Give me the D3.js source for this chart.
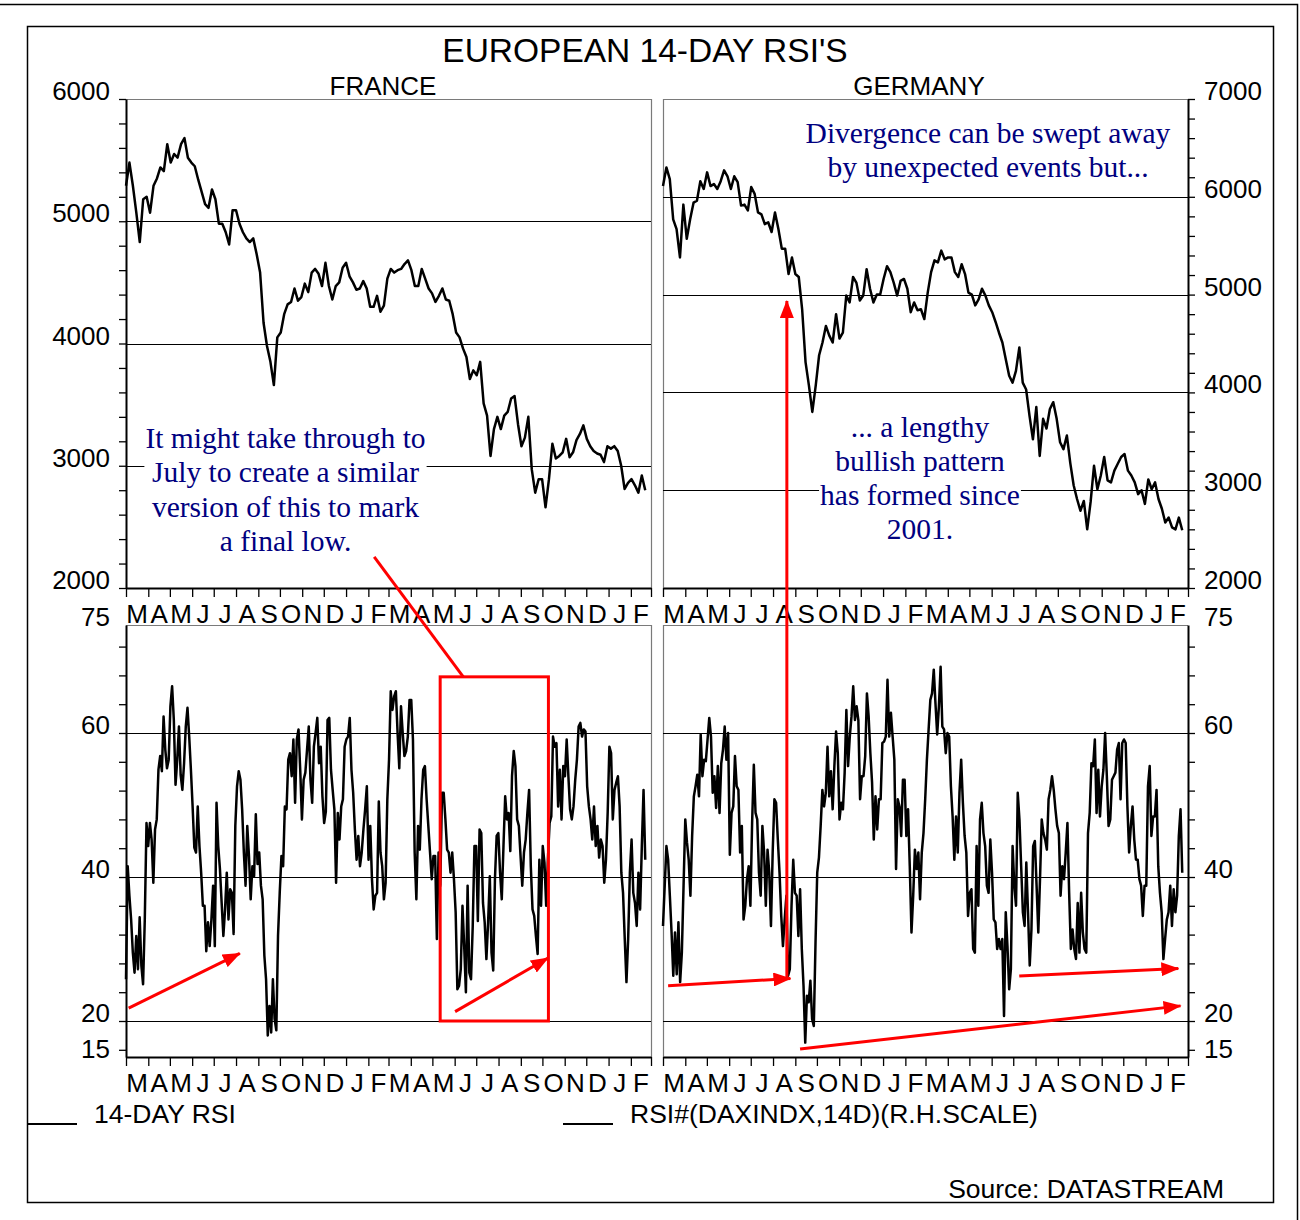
<!DOCTYPE html>
<meta charset="utf-8">
<style type="text/css">
    body { margin: 0; background: #fff; }
    svg text { font-family: "Liberation Sans", Arial, sans-serif; fill: #000; }
    .grid { stroke: #000; stroke-width: 1; }
    .frame { stroke: #7a7a7a; stroke-width: 1.2; fill: none; }
    .series { fill: none; stroke: #000; stroke-width: 2.5; stroke-linejoin: round; }
    .note text { font-family: "Liberation Serif", "Times New Roman", serif; fill: #000080; font-size: 29.5px; }
    .red { stroke: #ff0000; stroke-width: 3; fill: none; }
</style>
<body>
</body>
<script src="https://d3js.org/d3.v7.min.js"></script>
<script>

    // month letters for the 24 months Mar 2001 .. Feb 2003
    var monthLetters = ["M","A","M","J","J","A","S","O","N","D","J","F",
                        "M","A","M","J","J","A","S","O","N","D","J","F"];

    // CAC 40 (left scale)
    var franceClose = [
        5290, 5480, 5290, 5070, 4830, 5180, 5200, 5070, 5290, 5350,
        5440, 5410, 5630, 5480, 5550, 5520, 5630, 5680, 5520, 5480,
        5450, 5340, 5240, 5140, 5110, 5260, 5180, 4980, 4980, 4910,
        4810, 5090, 5090, 4980, 4910, 4860, 4830, 4860, 4730, 4580,
        4170, 3980, 3850, 3660, 4050, 4090, 4240, 4320, 4340, 4450,
        4350, 4380, 4490, 4420, 4580, 4610, 4570, 4470, 4660, 4470,
        4360, 4470, 4500, 4620, 4660, 4550, 4500, 4440, 4450, 4510,
        4450, 4300, 4300, 4390, 4260, 4310, 4530, 4610, 4580, 4600,
        4610, 4650, 4680, 4600, 4470, 4470, 4610, 4530, 4450, 4410,
        4340, 4390, 4450, 4360, 4350, 4240, 4090, 4050, 3960, 3890,
        3710, 3780, 3740, 3850, 3510, 3410, 3080, 3300, 3400, 3300,
        3410, 3440, 3550, 3570, 3340, 3160, 3230, 3400, 2970, 2780,
        2890, 2890, 2660, 2890, 3180, 3060, 3080, 3110, 3220, 3070,
        3110, 3210, 3260, 3330, 3220, 3160, 3120, 3100, 3090, 3030,
        3160, 3140, 3160, 3120, 3000, 2810, 2860, 2890, 2840, 2780,
        2920, 2800
    ];

    // DAX (right scale)
    var germanyClose = [
        6110, 6300, 6180, 5770, 5670, 5380, 5920, 5570, 5770, 5940,
        5960, 6160, 6080, 6250, 6110, 6130, 6080, 6160, 6270, 6210,
        6080, 6210, 6150, 5910, 5920, 5860, 6100, 6030, 5840, 5820,
        5720, 5740, 5640, 5840, 5670, 5470, 5470, 5210, 5380, 5210,
        5180, 4850, 4310, 4070, 3800, 4070, 4380, 4510, 4680, 4580,
        4510, 4800, 4550, 4610, 4990, 4920, 5180, 5120, 4940, 4990,
        5260, 5060, 4920, 5000, 5000, 5160, 5290, 5230, 5120, 4990,
        5140, 5160, 5060, 4820, 4920, 4840, 4850, 4750, 5020, 5230,
        5350, 5330, 5450, 5360, 5380, 5380, 5230, 5180, 5310, 5210,
        5020, 5000, 4890, 4950, 5060, 4990, 4890, 4820, 4720, 4610,
        4510, 4340, 4170, 4100, 4220, 4460, 4100, 4030, 3760, 3520,
        3850, 3350, 3730, 3630, 3830, 3900, 3730, 3490, 3420, 3560,
        3280, 3050, 2910, 2790, 2890, 2600, 2880, 3250, 3010, 3150,
        3340, 3100, 3080, 3200, 3270, 3340, 3370, 3200, 3150, 3080,
        2960, 3000, 2860, 3110, 3010, 3080, 2910, 2810, 2670, 2720,
        2620, 2600, 2720, 2590
    ];

    // 14-day RSI, France
    var franceRsi = [
        25.8, 41.5, 37.4, 34.1, 29.5, 26.7, 31.8, 27.2, 34.4, 27.7,
        25.1, 34.1, 47.5, 44.3, 47.5, 45.2, 39.2, 46.6, 48.0, 54.9,
        56.8, 54.7, 62.3, 57.7, 55.1, 56.3, 63.7, 66.5, 61.8, 52.8,
        56.3, 60.9, 54.2, 52.1, 55.8, 60.9, 63.5, 59.5, 54.9, 49.8,
        44.1, 43.4, 49.8, 44.3, 40.6, 36.0, 36.0, 29.7, 33.7, 30.4,
        34.1, 38.8, 30.4, 50.3, 44.3, 41.1, 36.4, 31.8, 35.5, 40.6,
        34.1, 38.3, 37.8, 32.1, 47.1, 52.6, 54.7, 53.5, 49.4, 43.4,
        38.8, 47.1, 42.9, 36.9, 41.5, 40.1, 48.7, 41.8, 43.4, 38.8,
        36.9, 29.1, 25.8, 18.0, 22.1, 18.4, 25.8, 20.3, 18.7, 31.8,
        37.8, 42.9, 41.5, 49.8, 49.4, 56.3, 57.2, 54.0, 59.1, 50.3,
        59.1, 60.5, 54.9, 48.0, 53.5, 54.5, 57.7, 60.9, 53.5, 50.3,
        58.1, 60.0, 62.1, 55.8, 58.1, 51.2, 47.5, 49.1, 61.8, 62.1,
        54.9, 52.1, 49.4, 39.2, 48.9, 45.2, 49.8, 50.8, 58.1, 59.1,
        59.5, 62.1, 54.9, 51.7, 46.6, 42.4, 45.7, 41.5, 43.4, 46.6,
        49.4, 52.6, 42.4, 47.1, 39.7, 35.5, 37.4, 37.8, 50.5, 43.4,
        41.5, 36.9, 39.2, 50.8, 56.3, 65.8, 63.2, 65.1, 65.8, 60.0,
        55.1, 63.7, 60.0, 56.8, 57.5, 59.5, 64.6, 64.6, 59.1, 43.4,
        36.9, 47.1, 43.8, 50.8, 54.9, 55.4, 50.8, 47.1, 43.4, 39.7,
        42.9, 42.9, 31.4, 43.4, 38.8, 51.7, 51.7, 48.0, 43.8, 43.4,
        40.6, 43.4, 39.7, 35.1, 24.4, 24.9, 27.2, 36.0, 30.4, 24.0,
        38.8, 26.7, 25.8, 33.2, 44.3, 44.3, 33.9, 46.6, 46.1, 36.4,
        33.7, 28.6, 33.7, 40.1, 29.5, 27.0, 39.7, 45.7, 46.1, 40.6,
        36.9, 44.3, 51.2, 48.0, 48.9, 43.6, 54.0, 57.5, 55.4, 48.0,
        47.1, 42.9, 38.8, 43.4, 45.2, 48.9, 52.1, 41.5, 35.5, 34.6,
        31.8, 29.3, 42.4, 36.0, 44.3, 42.0, 36.0, 42.4, 47.5, 48.4,
        59.5, 58.1, 58.6, 49.8, 54.9, 48.0, 55.4, 54.0, 59.1, 54.0,
        49.4, 48.0, 49.8, 53.5, 56.3, 60.9, 61.4, 59.5, 60.5, 60.2,
        52.6, 49.8, 48.0, 45.2, 49.8, 44.3, 47.1, 42.7, 45.2, 44.3,
        39.2, 42.4, 48.9, 58.1, 57.2, 48.0, 52.1, 53.1, 54.0, 49.8,
        40.6, 37.8, 31.4, 25.4, 31.4, 40.6, 45.2, 37.8, 36.4, 33.2,
        40.6, 35.5, 44.3, 52.1, 42.4
    ];

    // RSI#(DAXINDX,14D)
    var germanyRsi = [
        33.2, 38.8, 44.3, 42.4, 37.4, 32.3, 26.3, 32.3, 26.5, 33.7,
        25.4, 29.5, 38.8, 48.0, 44.8, 42.4, 37.4, 45.7, 51.2, 52.6,
        54.2, 51.2, 59.8, 54.0, 56.3, 56.1, 59.1, 62.1, 59.5, 51.7,
        54.0, 49.6, 55.4, 48.9, 55.8, 57.7, 60.9, 56.3, 60.0, 43.1,
        48.9, 49.8, 56.8, 52.6, 52.1, 43.4, 47.1, 34.1, 36.0, 39.7,
        41.5, 36.0, 47.5, 55.6, 48.9, 48.0, 40.6, 37.4, 47.1, 43.4,
        36.0, 43.8, 40.6, 33.2, 43.4, 50.8, 50.3, 45.2, 40.6, 34.6,
        30.4, 34.1, 37.4, 26.3, 27.2, 36.0, 42.4, 37.8, 37.4, 31.8,
        38.3, 30.0, 24.9, 17.0, 23.5, 22.6, 25.6, 20.3, 19.3, 30.9,
        40.6, 42.7, 47.1, 52.1, 49.8, 51.7, 58.1, 51.2, 54.7, 49.4,
        55.4, 60.2, 57.2, 48.0, 50.3, 49.4, 54.5, 63.2, 55.4, 59.5,
        62.3, 66.5, 61.8, 63.7, 61.8, 50.8, 54.0, 54.0, 56.8, 65.5,
        62.3, 57.2, 53.1, 45.2, 51.2, 46.6, 50.8, 50.8, 58.6, 58.8,
        59.5, 67.4, 59.5, 62.8, 59.5, 56.3, 41.1, 50.8, 49.8, 45.7,
        53.5, 53.5, 45.7, 49.4, 41.5, 32.3, 37.4, 43.8, 41.1, 43.4,
        36.9, 43.4, 46.1, 50.8, 56.3, 60.5, 64.6, 65.5, 68.8, 64.1,
        59.8, 63.7, 69.2, 60.9, 60.5, 57.2, 60.0, 59.5, 52.6, 48.4,
        42.4, 48.4, 43.4, 51.7, 56.3, 50.3, 45.7, 43.4, 34.6, 37.8,
        38.3, 30.0, 29.5, 44.3, 36.0, 48.0, 50.3, 46.1, 44.3, 38.8,
        37.8, 45.2, 40.6, 34.1, 33.7, 30.0, 31.4, 30.0, 31.4, 20.7,
        35.1, 30.4, 24.4, 27.2, 44.3, 38.8, 36.0, 51.7, 48.0, 41.5,
        35.1, 33.2, 42.0, 35.1, 27.7, 32.7, 44.3, 45.0, 38.8, 32.3,
        39.7, 48.0, 46.1, 45.2, 43.8, 50.8, 52.1, 54.0, 52.1, 49.4,
        47.1, 46.1, 37.4, 41.5, 39.7, 43.4, 47.5, 37.8, 30.0, 32.7,
        30.0, 28.6, 36.4, 29.5, 37.8, 32.3, 30.0, 29.5, 46.1, 48.9,
        55.8, 55.4, 59.1, 48.9, 54.9, 48.4, 52.6, 54.9, 60.0, 54.0,
        47.1, 48.0, 53.5, 54.0, 54.5, 57.7, 58.6, 50.8, 58.6, 59.1,
        58.6, 49.8, 43.4, 47.1, 49.8, 45.2, 42.4, 42.4, 39.7, 38.8,
        34.6, 38.8, 38.8, 52.6, 55.4, 45.7, 48.4, 48.4, 52.1, 41.5,
        37.8, 35.1, 28.6, 31.4, 34.1, 35.1, 38.8, 33.2, 38.3, 35.1,
        37.4, 45.7, 49.4, 40.6
    ];

    var axisStart = new Date(2001, 2, 1),
        axisEnd = new Date(2003, 2, 1),
        lastObs = new Date(2003, 1, 21);

    var svg = d3.select("body").append("svg")
        .attr("width", 1300)
        .attr("height", 1220);

    // page borders
    svg.append("path").attr("d", "M0,4.5H1297.5V1220").attr("fill", "none")
        .attr("stroke", "#000").attr("stroke-width", 1.5);
    svg.append("rect").attr("x", 27.5).attr("y", 26.5).attr("width", 1246).attr("height", 1176)
        .attr("fill", "none").attr("stroke", "#000").attr("stroke-width", 1.5);

    var xFr = d3.scaleTime().domain([axisStart, axisEnd]).range([126, 651]);
    var xDe = d3.scaleTime().domain([axisStart, axisEnd]).range([663, 1188]);
    var yFrPx = d3.scaleLinear().domain([2000, 6000]).range([588, 99]);
    var yDePx = d3.scaleLinear().domain([2000, 7000]).range([588, 99]);
    var yRsi = d3.scaleLinear().domain([15, 75]).range([1057, 625]);

    var panels = [
        {x: xFr, y: yFrPx, side: "left", grid: [3000, 4000, 5000], ticks: d3.range(2000, 6001, 200),
         labels: [2000, 3000, 4000, 5000, 6000], data: franceClose},
        {x: xDe, y: yDePx, side: "right", grid: [3000, 4000, 5000, 6000], ticks: d3.range(2000, 7001, 200),
         labels: [2000, 3000, 4000, 5000, 6000, 7000], data: germanyClose},
        {x: xFr, y: yRsi, side: "left", grid: [20, 40, 60], ticks: d3.range(16, 73, 4),
         labels: [15, 20, 40, 60, 75], data: franceRsi},
        {x: xDe, y: yRsi, side: "right", grid: [20, 40, 60], ticks: d3.range(16, 73, 4),
         labels: [15, 20, 40, 60, 75], data: germanyRsi}
    ];

    // spread observations evenly from the first to the last trading day shown
    function withDates(values) {
        var t = d3.scaleLinear().domain([0, values.length - 1]).range([+axisStart, +lastObs]);
        return values.map(function(v, i) { return {date: new Date(t(i)), value: v}; });
    }

    // month offset (fractional) -> date, for annotations
    function md(m) {
        var base = d3.timeMonth.offset(axisStart, Math.floor(m)),
            next = d3.timeMonth.offset(base, 1);
        return new Date(+base + (m - Math.floor(m)) * (next - base));
    }

    var gridLayer = svg.append("g"),
        noteLayer = svg.append("g"),
        lineLayer = svg.append("g"),
        axisLayer = svg.append("g"),
        redLayer = svg.append("g");

    var months = d3.timeMonth.range(axisStart, d3.timeDay.offset(axisEnd, 1));

    panels.forEach(function(p) {
        var x0 = p.x.range()[0], x1 = p.x.range()[1],
            yb = p.y.range()[0], yt = p.y.range()[1];

        // thin grey frame on the non-axis sides
        var fx = p.side === "left" ? x1 : x0;
        gridLayer.append("path").attr("class", "frame")
            .attr("d", "M" + x0 + "," + (yt + 0.5) + "H" + x1 + "M" + (fx + 0.5) + "," + yt + "V" + yb);

        gridLayer.selectAll(null)
            .data(p.grid)
            .enter().append("line")
            .attr("class", "grid")
            .attr("x1", x0).attr("x2", x1)
            .attr("y1", function(d) { return Math.round(p.y(d)) + 0.5; })
            .attr("y2", function(d) { return Math.round(p.y(d)) + 0.5; });

        var line = d3.line()
            .x(function(d) { return p.x(d.date); })
            .y(function(d) { return p.y(d.value); });

        lineLayer.append("path")
            .datum(withDates(p.data))
            .attr("class", "series")
            .attr("d", line);

        // value axis
        var ax = (p.side === "left" ? d3.axisLeft(p.y) : d3.axisRight(p.y))
            .tickValues(p.ticks).tickSize(7).tickSizeOuter(0).tickFormat("");
        var ga = axisLayer.append("g")
            .attr("transform", "translate(" + (p.side === "left" ? x0 : x1) + ",0)")
            .call(ax);
        ga.select(".domain").attr("stroke-width", 2);
        ga.selectAll(".tick line").attr("stroke-width", 1.3);

        axisLayer.selectAll(null)
            .data(p.labels)
            .enter().append("text")
            .attr("x", p.side === "left" ? x0 - 16 : x1 + 16)
            .attr("y", function(d) { return p.y(d) + 1; })
            .attr("text-anchor", p.side === "left" ? "end" : "start")
            .style("font-size", "26px")
            .text(function(d) { return d; });

        // month axis
        var gm = axisLayer.append("g")
            .attr("transform", "translate(0," + yb + ")")
            .call(d3.axisBottom(p.x).tickValues(months).tickSize(9).tickSizeOuter(0).tickFormat(""));
        gm.select(".domain").attr("stroke-width", 2);
        gm.selectAll(".tick line").attr("stroke-width", 1.3);

        axisLayer.selectAll(null)
            .data(months.slice(0, 24))
            .enter().append("text")
            .attr("x", function(d, i) { return (p.x(d) + p.x(months[i + 1])) / 2; })
            .attr("y", yb + 35)
            .attr("text-anchor", "middle")
            .style("font-size", "26px")
            .text(function(d, i) { return monthLetters[i]; });
    });

    // headings
    svg.append("text").attr("x", 645).attr("y", 62).attr("text-anchor", "middle")
        .style("font-size", "33.5px").text("EUROPEAN 14-DAY RSI'S");
    svg.append("text").attr("x", 383).attr("y", 95).attr("text-anchor", "middle")
        .style("font-size", "26px").text("FRANCE");
    svg.append("text").attr("x", 919).attr("y", 95).attr("text-anchor", "middle")
        .style("font-size", "26px").text("GERMANY");

    // legend and source
    var legend = [
        {x: 27, label: "14-DAY RSI"},
        {x: 563, label: "RSI#(DAXINDX,14D)(R.H.SCALE)"}
    ];
    legend.forEach(function(l) {
        svg.append("line").attr("x1", l.x).attr("x2", l.x + 50).attr("y1", 1124).attr("y2", 1124)
            .attr("stroke", "#000").attr("stroke-width", 2);
        svg.append("text").attr("x", l.x + 67).attr("y", 1123)
            .style("font-size", "26.5px").text(l.label);
    });
    svg.append("text").attr("x", 1224).attr("y", 1198).attr("text-anchor", "end")
        .style("font-size", "26.5px").text("Source: DATASTREAM");

    // text notes, on white so they knock out the grid lines
    var notes = [
        {x: 285.5, y: 448, padX: 1, lines: ["It might take through to", "July to create a similar",
                                            "version of this to mark", "a final low."]},
        {x: 988, y: 143, padX: 9, lines: ["Divergence can be swept away", "by unexpected events but..."]},
        {x: 920, y: 436.5, padX: 1, lines: ["... a lengthy", "bullish pattern", "has formed since", "2001."]}
    ];
    notes.forEach(function(n) {
        var g = noteLayer.append("g").attr("class", "note");
        var box = g.append("rect").attr("fill", "#fff");
        var t = g.append("text").attr("text-anchor", "middle");
        t.selectAll("tspan")
            .data(n.lines)
            .enter().append("tspan")
            .attr("x", n.x)
            .attr("y", function(d, i) { return n.y + i * 34.3; })
            .text(function(d) { return d; });
        var bb = t.node().getBBox();
        box.attr("x", bb.x - n.padX).attr("y", bb.y).attr("width", bb.width + 2 * n.padX).attr("height", bb.height);
    });

    // red markup
    svg.append("defs").append("marker")
        .attr("id", "head")
        .attr("viewBox", "0 0 18 14")
        .attr("markerUnits", "userSpaceOnUse")
        .attr("markerWidth", 18).attr("markerHeight", 14)
        .attr("refX", 17).attr("refY", 7)
        .attr("orient", "auto")
        .append("path").attr("d", "M0,0L18,7L0,14Z").attr("fill", "#ff0000");

    var arrows = [
        {x: xFr, y0: yRsi, y1: yRsi, from: [0.12, 21.8], to: [5.17, 29.4]},
        {x: xFr, y0: yRsi, y1: yRsi, from: [15.02, 21.3], to: [19.25, 28.75]},
        {x: xDe, y0: yRsi, y1: yRsi, from: [0.23, 24.9], to: [5.78, 25.9]},
        {x: xDe, y0: yRsi, y1: yRsi, from: [16.27, 26.25], to: [23.52, 27.3]},
        {x: xDe, y0: yRsi, y1: yRsi, from: [6.22, 16.1], to: [23.63, 22.1]},
        {x: xDe, y0: yRsi, y1: yDePx, from: [5.62, 25.9], to: [5.62, 4935]}
    ];
    redLayer.selectAll(null)
        .data(arrows)
        .enter().append("line")
        .attr("class", "red")
        .attr("x1", function(d) { return d.x(md(d.from[0])); })
        .attr("y1", function(d) { return d.y0(d.from[1]); })
        .attr("x2", function(d) { return d.x(md(d.to[0])); })
        .attr("y2", function(d) { return d.y1(d.to[1]); })
        .attr("marker-end", "url(#head)");

    // box round the spring 2002 - autumn 2002 RSI swing, and its pointer from the note
    var boxFrom = 14.35, boxTo = 19.27, boxLow = 20, boxHigh = 67.8;
    redLayer.append("rect").attr("class", "red")
        .attr("x", xFr(md(boxFrom))).attr("y", yRsi(boxHigh))
        .attr("width", xFr(md(boxTo)) - xFr(md(boxFrom)))
        .attr("height", yRsi(boxLow) - yRsi(boxHigh));
    redLayer.append("line").attr("class", "red")
        .attr("x1", xFr(md(11.29))).attr("y1", yFrPx(2254))
        .attr("x2", xFr(md(15.4))).attr("y2", yRsi(boxHigh));

</script>
